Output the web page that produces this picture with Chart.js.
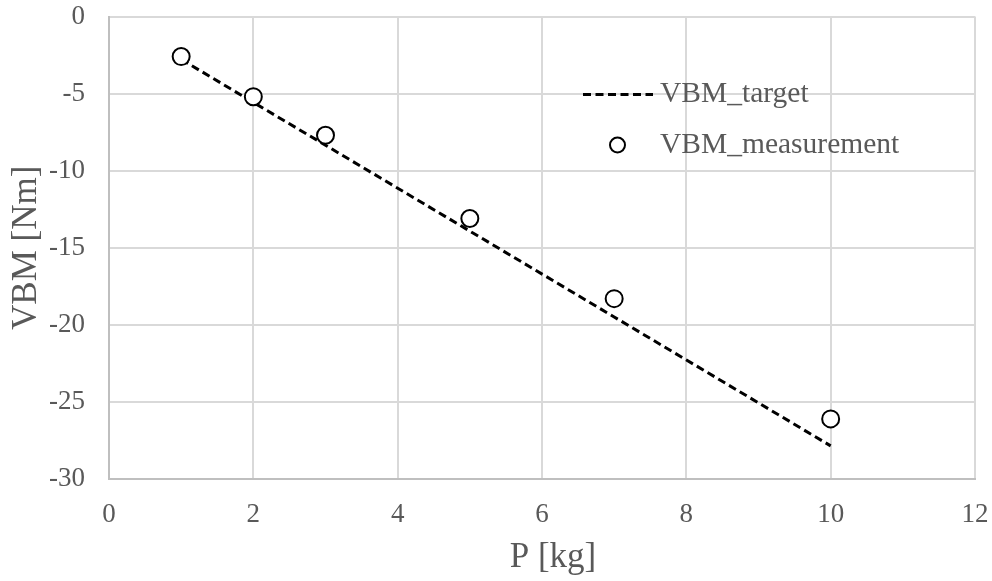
<!DOCTYPE html>
<html>
<head>
<meta charset="utf-8">
<script src="https://cdn.jsdelivr.net/npm/chart.js@4.4.1/dist/chart.umd.min.js"></script>
<style>
  html, body { margin: 0; padding: 0; background: #ffffff; }
  #wrap { width: 992px; height: 581px; position: relative; }
</style>
</head>
<body>
<div id="wrap"><canvas id="c"></canvas></div>
<script>
// Load P [kg] and vertical bending moment [Nm]
const loadKg = [1, 2, 3, 5, 7, 10];
const vbmTarget = [-2.78, -5.57, -8.35, -13.92, -19.49, -27.85];
const vbmMeasurement = [-2.6, -5.2, -7.7, -13.1, -18.3, -26.1];
const xTicks = [0, 2, 4, 6, 8, 10, 12];
const yTicks = [-30, -25, -20, -15, -10, -5, 0];
const seriesNames = ['VBM_target', 'VBM_measurement'];
const xTitle = 'P [kg]';
const yTitle = 'VBM [Nm]';

const FONT = "'Liberation Serif', 'Times New Roman', serif";
const TEXT = '#595959';
const GRID = '#d9d9d9';
const DASH = [8, 4.5];

const toPoints = (xs, ys) => xs.map((x, i) => ({ x: x, y: ys[i] }));

// Legend inside the plot area (top right) and the x-axis title
const annotations = {
  id: 'annotations',
  afterDraw(chart) {
    const ctx = chart.ctx;
    const a = chart.chartArea;
    const textX = a.left + 551;
    const row1 = a.top + 78;
    const row2 = a.top + 128.5;
    ctx.save();
    // dashed line sample
    ctx.strokeStyle = '#000';
    ctx.lineWidth = 3;
    ctx.setLineDash(DASH);
    ctx.beginPath();
    ctx.moveTo(a.left + 474, row1);
    ctx.lineTo(a.left + 544, row1);
    ctx.stroke();
    ctx.setLineDash([]);
    // circle sample
    ctx.lineWidth = 2;
    ctx.fillStyle = '#fff';
    ctx.beginPath();
    ctx.arc(a.left + 508.5, row2, 7.5, 0, Math.PI * 2);
    ctx.fill();
    ctx.stroke();
    // labels
    ctx.fillStyle = TEXT;
    ctx.font = '29.5px ' + FONT;
    ctx.textBaseline = 'middle';
    ctx.textAlign = 'left';
    ctx.fillText(seriesNames[0], textX, row1);
    ctx.fillText(seriesNames[1], textX, row2);
    // x-axis title
    ctx.font = '35px ' + FONT;
    ctx.textAlign = 'center';
    ctx.textBaseline = 'alphabetic';
    ctx.fillText(xTitle, (a.left + a.right) / 2 + 11, a.bottom + 88);
    ctx.restore();
  }
};

new Chart(document.getElementById('c'), {
  type: 'scatter',
  data: {
    datasets: [
      {
        label: seriesNames[1],
        data: toPoints(loadKg, vbmMeasurement),
        showLine: false,
        pointStyle: 'circle',
        pointRadius: 8.5,
        pointHoverRadius: 8.5,
        pointBorderWidth: 2,
        borderColor: '#000',
        backgroundColor: '#fff',
        order: 0
      },
      {
        label: seriesNames[0],
        data: toPoints(loadKg, vbmTarget),
        showLine: true,
        pointRadius: 0,
        borderColor: '#000',
        borderWidth: 3,
        borderDash: DASH,
        backgroundColor: '#000',
        order: 1
      }
    ]
  },
  options: {
    responsive: true,
    maintainAspectRatio: false,
    animation: false,
    layout: { padding: { top: 16.5, right: 17, left: 0, bottom: 0 } },
    plugins: {
      legend: { display: false },
      tooltip: { enabled: false }
    },
    scales: {
      x: {
        type: 'linear',
        min: 0,
        max: 12,
        afterBuildTicks: (s) => { s.ticks = xTicks.map(v => ({ value: v })); },
        grid: { color: GRID, lineWidth: 2, drawTicks: false },
        border: { color: '#bfbfbf', width: 2 },
        ticks: { color: TEXT, font: { family: FONT, size: 27 }, padding: 20, maxRotation: 0 },
        title: { display: false },
        afterFit: (s) => { s.height = 102; s.paddingLeft = 0; s.paddingRight = 0; }
      },
      y: {
        type: 'linear',
        min: -30,
        max: 0,
        afterBuildTicks: (s) => { s.ticks = yTicks.map(v => ({ value: v })); },
        grid: { color: GRID, lineWidth: 2, drawTicks: false },
        border: { color: '#bfbfbf', width: 2 },
        ticks: { color: TEXT, font: { family: FONT, size: 27 }, padding: 24 },
        title: { display: true, text: yTitle, color: TEXT, font: { family: FONT, size: 35 }, padding: { top: 6, bottom: 0 } },
        afterFit: (s) => { s.width = 109; s.paddingTop = 0; s.paddingBottom = 0; }
      }
    }
  },
  plugins: [annotations]
});
</script>
</body>
</html>
